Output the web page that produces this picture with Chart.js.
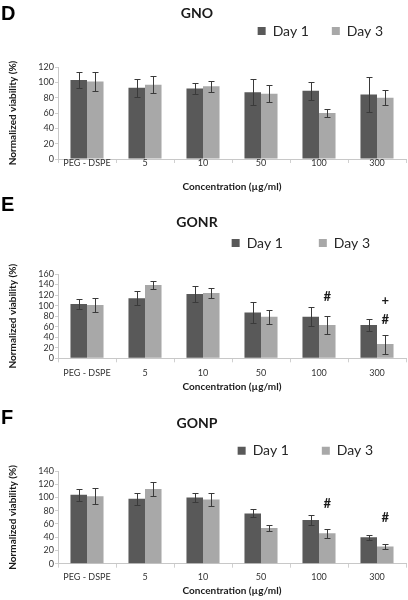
<!DOCTYPE html>
<html>
<head>
<meta charset="utf-8">
<script src="https://cdn.jsdelivr.net/npm/chart.js@4.4.1/dist/chart.umd.min.js"></script>
<style>
    body { margin: 0; background: #fff; width: 408px; height: 600px; position: relative; overflow: hidden; }
    canvas { position: absolute; left: 0; }
    .panel { position: absolute; left: 1px; font: bold 20px "Liberation Sans", Arial, sans-serif; line-height: 20px; color: #000; }
</style>
</head>
<body>
<canvas id="chartGNO" width="408" height="195" style="top:0px"></canvas>
<canvas id="chartGONR" width="408" height="198" style="top:195px"></canvas>
<canvas id="chartGONP" width="408" height="207" style="top:393px"></canvas>
<div class="panel" style="top:3px">D</div>
<div class="panel" style="top:194px">E</div>
<div class="panel" style="top:407px">F</div>
<script>
// Data
const concentrations = ['PEG - DSPE', '5', '10', '50', '100', '300'];
const seriesNames = ['Day 1', 'Day 3'];

const gnoDay1 = [103, 93, 92, 87, 89, 84];
const gnoDay1Err = [10, 12, 7, 17, 12, 23];
const gnoDay3 = [101, 97, 95, 85, 60, 80];
const gnoDay3Err = [12, 11, 7, 11, 5, 10];

const gonrDay1 = [103, 114, 122, 87, 79, 63];
const gonrDay1Err = [10, 13, 16, 20, 18, 11];
const gonrDay3 = [101, 139, 124, 79, 63, 27];
const gonrDay3Err = [13, 7, 9, 13, 17, 18];

const gonpDay1 = [104, 98, 100, 76, 66, 40];
const gonpDay1Err = [9, 9, 7, 6, 8, 4];
const gonpDay3 = [102, 113, 97, 54, 46, 26];
const gonpDay3Err = [12, 11, 10, 5, 7, 4];

// significance marks above the Day 3 bars: [category index, y value, symbol]
const gonrMarks = [[4, 116, '#'], [5, 110, '+'], [5, 73, '#']];
const gonpMarks = [[4, 91, '#'], [5, 69, '#']];

Chart.defaults.font.family = 'Lato';

// draws +/- error bars for every bar
const errorBars = {
    id: 'errorBars',
    afterDatasetsDraw(chart) {
        const ctx = chart.ctx;
        const yScale = chart.scales.y;
        ctx.save();
        ctx.strokeStyle = '#3a3a3a';
        ctx.lineWidth = 1;
        chart.data.datasets.forEach((ds, di) => {
            chart.getDatasetMeta(di).data.forEach((bar, i) => {
                const top = Math.round(yScale.getPixelForValue(ds.data[i] + ds.err[i])) + 0.5;
                const bottom = Math.round(yScale.getPixelForValue(ds.data[i] - ds.err[i])) + 0.5;
                const x = Math.round(bar.x) + 0.5;
                ctx.beginPath();
                ctx.moveTo(x, top);
                ctx.lineTo(x, bottom);
                ctx.moveTo(x - 3, top);
                ctx.lineTo(x + 3, top);
                ctx.moveTo(x - 3, bottom);
                ctx.lineTo(x + 3, bottom);
                ctx.stroke();
            });
        });
        ctx.restore();
    }
};

// draws the # / + symbols
const sigMarks = {
    id: 'sigMarks',
    afterDatasetsDraw(chart) {
        const ctx = chart.ctx;
        const yScale = chart.scales.y;
        ctx.save();
        ctx.fillStyle = '#1a1a1a';
        ctx.font = 'bold 13px Lato';
        ctx.textAlign = 'center';
        ctx.textBaseline = 'middle';
        chart.data.datasets.forEach((ds, di) => {
            const bars = chart.getDatasetMeta(di).data;
            (ds.marks || []).forEach(m => {
                ctx.fillText(m[2], bars[m[0]].x, yScale.getPixelForValue(m[1]));
            });
        });
        ctx.restore();
    }
};

function makeConfig(title, day1, day1Err, day3, day3Err, marks, yMax, lay) {
    return {
        type: 'bar',
        data: {
            labels: concentrations,
            datasets: [
                { label: seriesNames[0], data: day1, err: day1Err, backgroundColor: '#595959' },
                { label: seriesNames[1], data: day3, err: day3Err, marks: marks, backgroundColor: '#a8a8a8' }
            ]
        },
        options: {
            responsive: false,
            animation: false,
            datasets: { bar: { categoryPercentage: 0.57, barPercentage: 1.0 } },
            layout: { padding: { left: -12, right: 2, top: 0, bottom: 0 } },
            plugins: {
                title: {
                    display: true,
                    text: title,
                    color: '#1a1a1a',
                    font: { size: 14, weight: 'bold' },
                    padding: { top: lay.titleTop, bottom: lay.titleBottom }
                },
                // empty spacer between legend and plot
                subtitle: {
                    display: true,
                    text: '',
                    weight: 500,
                    padding: 0,
                    font: { size: lay.gap, lineHeight: 1 }
                },
                legend: {
                    position: 'top',
                    align: 'end',
                    labels: {
                        boxWidth: 8,
                        boxHeight: 8,
                        padding: lay.legendPad,
                        color: '#262626',
                        font: { size: 14 }
                    }
                },
                tooltip: { enabled: false }
            },
            scales: {
                x: {
                    grid: { drawOnChartArea: false, tickLength: 4, color: '#d0d0d0' },
                    border: { color: '#c8c8c8' },
                    ticks: { padding: lay.tickPad, color: '#333', font: { size: 9 } },
                    title: {
                        display: true,
                        text: 'Concentration (µg/ml)',
                        color: '#1a1a1a',
                        font: { size: 10, weight: 'bold' },
                        padding: { top: lay.xTitleTop, bottom: lay.xTitleBottom }
                    }
                },
                y: {
                    min: 0,
                    max: yMax,
                    ticks: { stepSize: 20, autoSkip: false, padding: 1, color: '#333', font: { size: 9 } },
                    grid: { drawOnChartArea: false, tickLength: 3, color: '#d0d0d0' },
                    border: { color: '#c8c8c8' },
                    title: {
                        display: true,
                        text: 'Normalized viability (%)',
                        color: '#1a1a1a',
                        font: { size: 10, weight: 'bold' },
                        padding: { top: 18.5, bottom: 0 }
                    },
                    afterFit(scale) { scale.width = 70; }
                }
            }
        },
        plugins: [errorBars, sigMarks]
    };
}

// GNO - START
new Chart('chartGNO', makeConfig('GNO', gnoDay1, gnoDay1Err, gnoDay3, gnoDay3Err, [], 120,
    { titleTop: 4.6, titleBottom: -20.4, legendPad: 23, gap: 19, tickPad: -4.9, xTitleTop: 17, xTitleBottom: 2 }));
// GNO - END

// GONR - START
new Chart('chartGONR', makeConfig('GONR', gonrDay1, gonrDay1Err, gonrDay3, gonrDay3Err, gonrMarks, 160,
    { titleTop: 18.6, titleBottom: -30.4, legendPad: 36, gap: 14, tickPad: 5, xTitleTop: -2.4, xTitleBottom: 0.3 }));
// GONR - END

// GONP - START
new Chart('chartGONP', makeConfig('GONP', gonpDay1, gonpDay1Err, gonpDay3, gonpDay3Err, gonpMarks, 140,
    { titleTop: 21.9, titleBottom: -21, legendPad: 33, gap: 3.3, tickPad: 4.2, xTitleTop: -1.9, xTitleBottom: 3 }));
// GONP - END
</script>
</body>
</html>
